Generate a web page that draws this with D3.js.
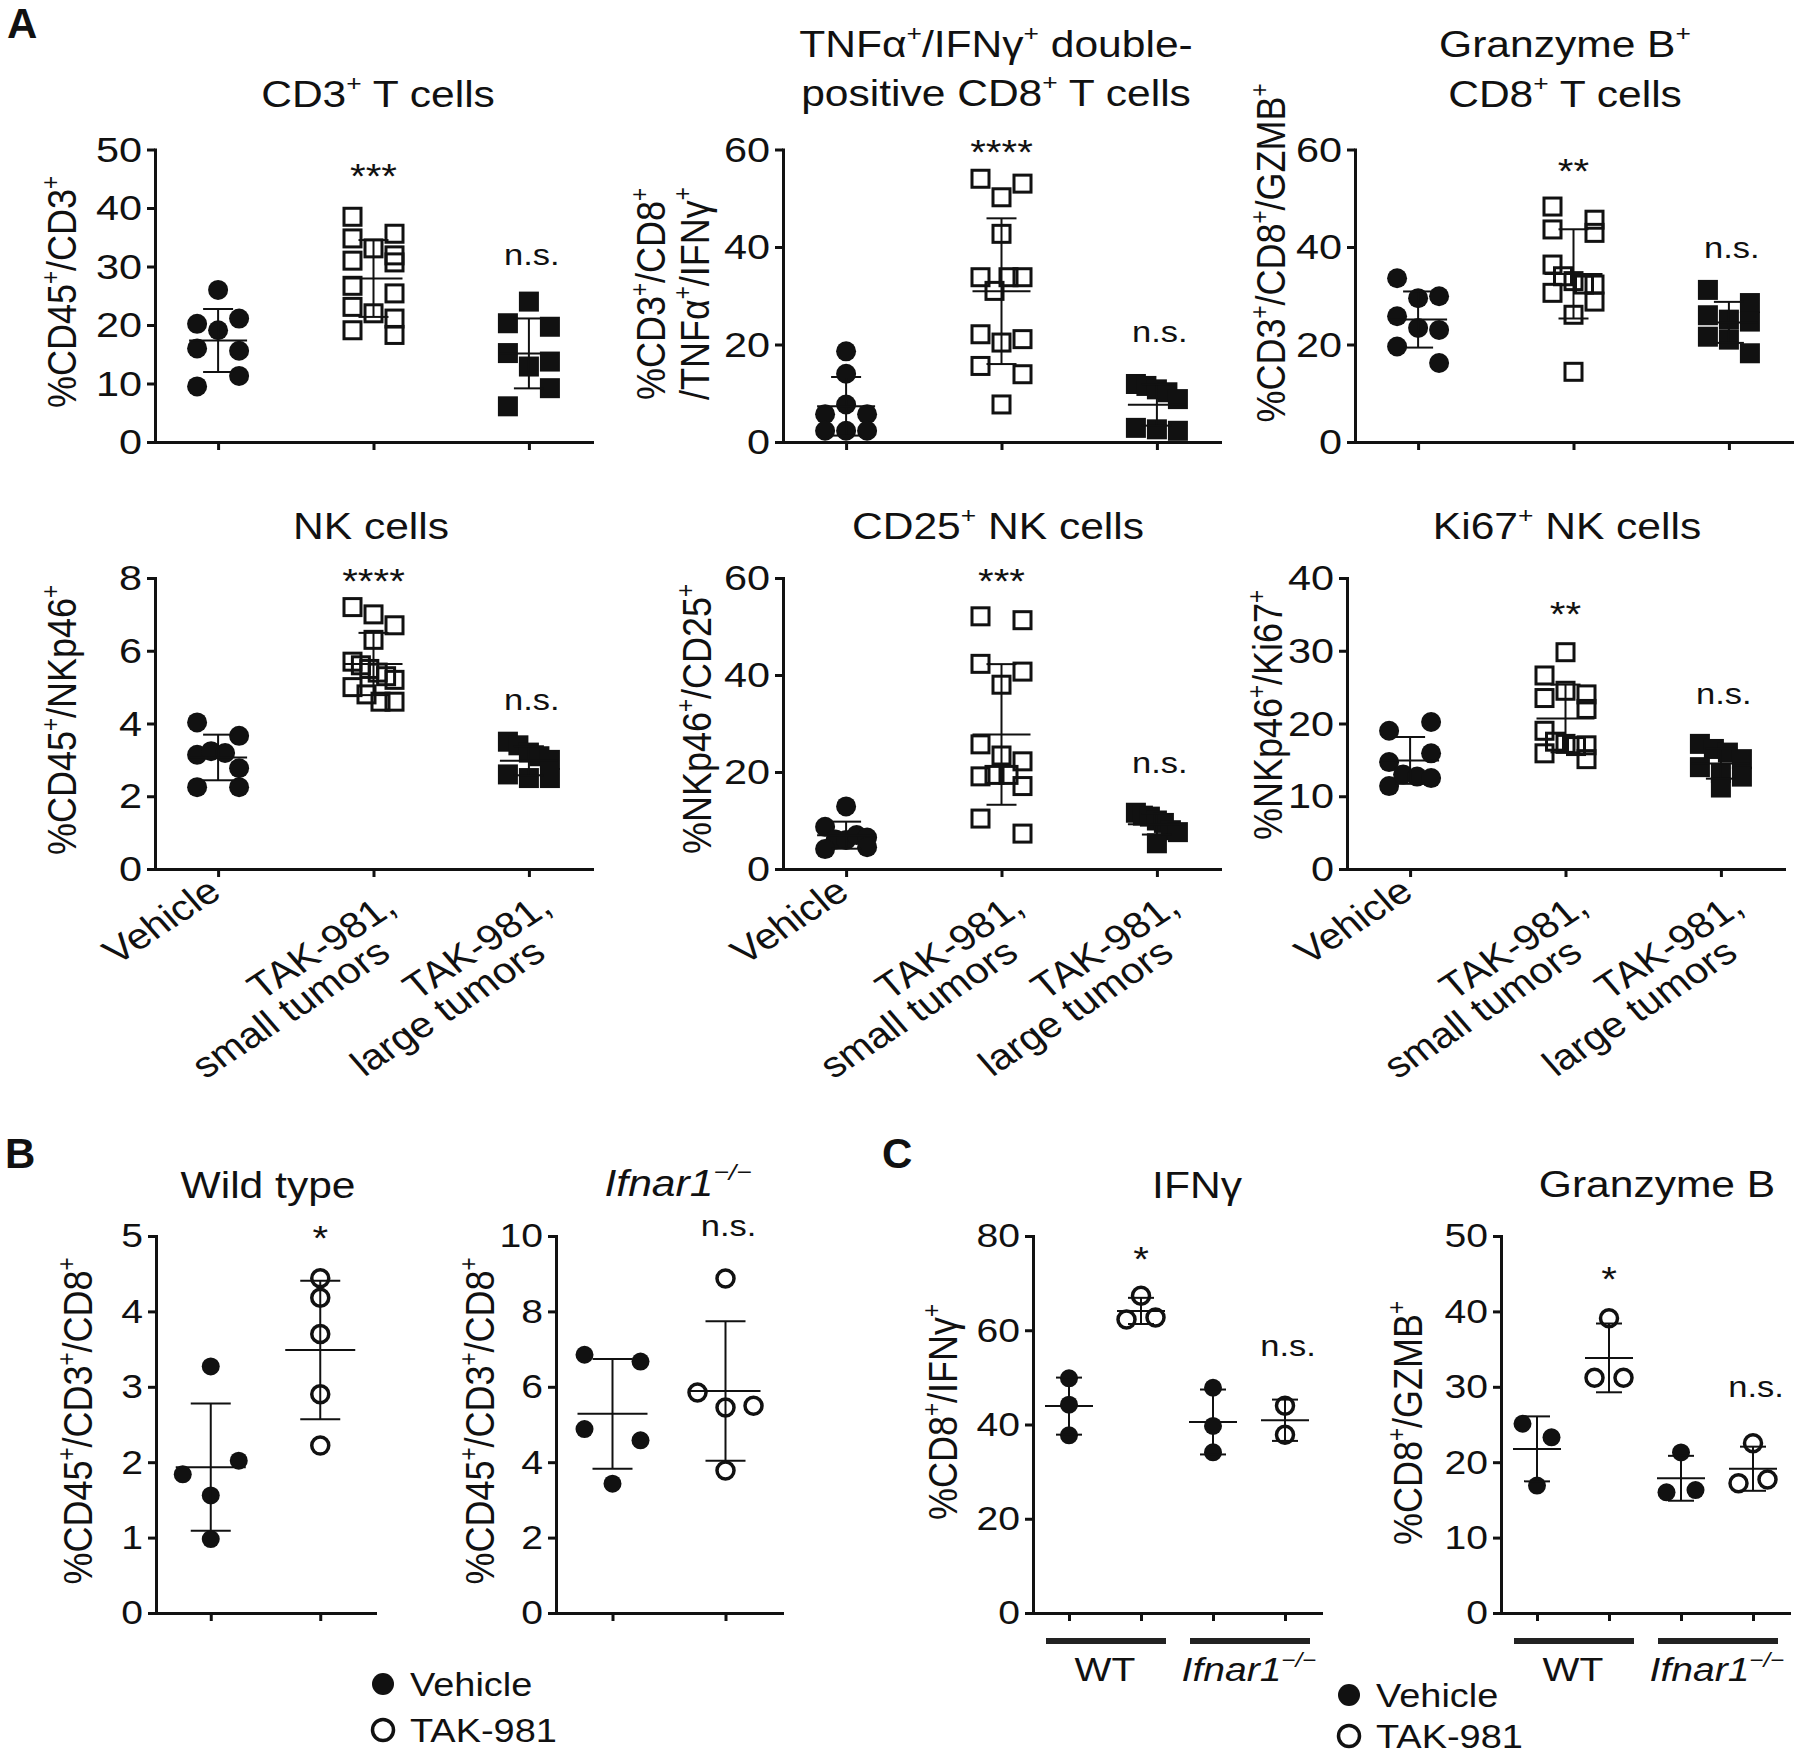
<!DOCTYPE html>
<html><head><meta charset="utf-8">
<script src="https://cdn.jsdelivr.net/npm/d3@7"></script>
<style>
body{margin:0;background:#fff}
svg{display:block}
</style>
</head><body>
<svg id="fig" width="1800" height="1762"></svg>
<script>
// ================= DATA =================
const catsA = ["Vehicle", "TAK-981, small tumors", "TAK-981, large tumors"];
const catLabelsA = [["Vehicle"], ["TAK-981,", "small tumors"], ["TAK-981,", "large tumors"]];
const catsB = ["Vehicle", "TAK-981"];
const catsC = ["WT Vehicle", "WT TAK-981", "Ifnar1 Vehicle", "Ifnar1 TAK-981"];
const groupLabelsC = ["WT", "Ifnar1^−/−^"];
const legendLabels = ["Vehicle", "TAK-981"];

// A: CD3+ T cells
const cd3Vehicle = [26.0, 20.2, 19.1, 21.1, 16.0, 15.6, 9.5, 11.3];
const cd3Small   = [38.5, 35.6, 34.8, 33.1, 31.9, 31.0, 30.7, 26.7, 25.4, 23.1, 22.0, 21.1, 19.1, 18.3];
const cd3Large   = [24.0, 20.3, 19.7, 15.2, 12.9, 13.75, 6.1, 9.2];
// A: TNFa+/IFNg+ double-positive CD8+ T cells
const tnfVehicle = [18.6, 14.0, 5.7, 7.7, 5.7, 2.3, 2.3, 2.3];
const tnfSmall   = [54.0, 50.2, 53.0, 42.7, 33.8, 31.0, 33.8, 33.8, 22.1, 20.4, 21.1, 15.6, 13.9, 7.7];
const tnfLarge   = [11.9, 11.5, 10.8, 10.2, 8.8, 2.9, 2.6, 2.3];
// A: Granzyme B+ CD8+ T cells
const gzmVehicle = [33.6, 29.5, 29.9, 25.8, 23.4, 23.0, 19.6, 16.2];
const gzmSmall   = [48.3, 45.6, 43.6, 42.9, 36.4, 34.0, 33.0, 32.3, 32.3, 30.6, 28.8, 26.1, 14.4];
const gzmLarge   = [31.2, 28.5, 26.0, 25.1, 24.7, 21.6, 21.0, 18.2];
// A: NK cells
const nkVehicle = [4.03, 3.66, 3.14, 3.24, 3.19, 2.25, 2.25, 2.77];
const nkSmall   = [7.2, 7.0, 6.7, 6.3, 5.7, 5.6, 5.5, 5.4, 5.3, 5.2, 5.0, 4.8, 4.6, 4.6];
const nkLarge   = [3.5, 3.4, 3.2, 3.1, 3.0, 2.6, 2.5, 2.5];
// A: CD25+ NK cells
const cd25Vehicle = [12.9, 8.7, 6.1, 6.0, 7.0, 6.5, 4.1, 4.5];
const cd25Small   = [52.1, 51.3, 42.3, 40.7, 38.0, 25.7, 23.4, 22.2, 19.1, 19.4, 19.4, 17.1, 10.4, 7.3];
const cd25Large   = [11.6, 11.0, 10.8, 10.0, 9.5, 8.0, 7.6, 5.3];
// A: Ki67+ NK cells
const ki67Vehicle = [19.0, 20.2, 14.7, 15.9, 11.4, 13.0, 12.7, 12.5];
const ki67Small   = [29.8, 26.6, 24.5, 24.0, 23.5, 22.0, 19.0, 17.5, 17.2, 16.9, 17.0, 15.9, 15.1];
const ki67Large   = [17.2, 16.5, 16.0, 15.1, 14.0, 13.2, 12.7, 11.2];
// B: CD8+ T cells, wild type and Ifnar1-/-
const wtVehicle = [3.27, 1.84, 2.02, 1.56, 0.98];
const wtTak     = [4.44, 4.18, 3.70, 2.90, 2.22];
const koVehicle = [6.85, 6.67, 4.88, 4.58, 3.43];
const koTak     = [8.87, 5.85, 5.45, 5.50, 3.78];
// C: IFNg
const ifnWtVehicle = [49.8, 44.2, 37.7];
const ifnWtTak     = [67.3, 62.3, 62.7];
const ifnKoVehicle = [47.8, 39.7, 34.1];
const ifnKoTak     = [44.0, 37.8];
// C: Granzyme B
const gzbWtVehicle = [25.1, 23.3, 16.9];
const gzbWtTak     = [39.1, 31.2, 31.2];
const gzbKoVehicle = [21.3, 16.0, 16.3];
const gzbKoTak     = [22.5, 17.2, 17.7];

// titles, axis labels, significance marks
const titles = {
  A1: ["CD3^+^ T cells"], A2: ["TNFα^+^/IFNγ^+^ double-", "positive CD8^+^ T cells"],
  A3: ["Granzyme B^+^", "CD8^+^ T cells"], A4: ["NK cells"], A5: ["CD25^+^ NK cells"],
  A6: ["Ki67^+^ NK cells"], B1: ["Wild type"], B2: ["Ifnar1^−/−^"], C1: ["IFNγ"], C2: ["Granzyme B"]
};
const yLabels = {
  A1: ["%CD45^+^/CD3^+^"], A2: ["%CD3^+^/CD8^+^", "/TNFα^+^/IFNγ^+^"], A3: ["%CD3^+^/CD8^+^/GZMB^+^"],
  A4: ["%CD45^+^/NKp46^+^"], A5: ["%NKp46^+^/CD25^+^"], A6: ["%NKp46^+^/Ki67^+^"],
  B1: ["%CD45^+^/CD3^+^/CD8^+^"], B2: ["%CD45^+^/CD3^+^/CD8^+^"],
  C1: ["%CD8^+^/IFNγ^+^"], C2: ["%CD8^+^/GZMB^+^"]
};
const sigs = {
  A1: ["", "***", "n.s."], A2: ["", "****", "n.s."], A3: ["", "**", "n.s."],
  A4: ["", "****", "n.s."], A5: ["", "***", "n.s."], A6: ["", "**", "n.s."],
  B1: ["", "*"], B2: ["", "n.s."], C1: ["", "*", "", "n.s."], C2: ["", "*", "", "n.s."]
};

// ================= STYLE / LAYOUT =================
const FONT = '"Liberation Sans", Arial, Helvetica, sans-serif';
const SX = 1.15;      // horizontal text stretch of the original figure
const INK = "#111";

const styleA = {mark: 20, w: 21, binH: 20, meanHalf: 29, capHalf: 15, tickFont: 36};
const styleB = {mark: 18, w: 28, binH: 16, meanHalf: 35, capHalf: 20, tickFont: 34};
const styleC = {mark: 18, w: 14.5, binH: 18, meanHalf: 24, capHalf: 13, tickFont: 34};

const panels = [
  {id:"A1", st:styleA, ax:155, w:437, pad:0.406, yTop:149.5, yBot:442, yMax:50, yStep:10, cats:catsA,
   series:[[cd3Vehicle,"cf"],[cd3Small,"so"],[cd3Large,"sf"]],
   tX:378, tY:107, tLh:50, ylX:76, ylY:292, ylA:"middle", sigY:[0,46.8,31.6], catLab:false},
  {id:"A2", st:styleA, ax:783, w:437, pad:0.406, yTop:149.5, yBot:442, yMax:60, yStep:20, cats:catsA,
   series:[[tnfVehicle,"cf"],[tnfSmall,"so"],[tnfLarge,"sf"]],
   tX:996, tY:57, tLh:49, ylX:665, ylY:400, ylA:"start", ylLh:38, sigY:[0,61.2,22.2], catLab:false},
  {id:"A3", st:styleA, ax:1355, w:437, pad:0.406, yTop:149.5, yBot:442, yMax:60, yStep:20, cats:catsA,
   series:[[gzmVehicle,"cf"],[gzmSmall,"so"],[gzmLarge,"sf"]],
   tX:1565, tY:57, tLh:50, ylX:1285, ylY:253, ylA:"middle", sigY:[0,57.3,39.4], catLab:false},
  {id:"A4", st:styleA, ax:155, w:437, pad:0.406, yTop:578, yBot:869, yMax:8, yStep:2, cats:catsA,
   series:[[nkVehicle,"cf"],[nkSmall,"so"],[nkLarge,"sf"]],
   tX:371, tY:539, tLh:50, ylX:76, ylY:720, ylA:"middle", sigY:[0,8.15,4.6], catLab:true},
  {id:"A5", st:styleA, ax:783, w:437, pad:0.406, yTop:578, yBot:869, yMax:60, yStep:20, cats:catsA,
   series:[[cd25Vehicle,"cf"],[cd25Small,"so"],[cd25Large,"sf"]],
   tX:998, tY:539, tLh:50, ylX:711, ylY:719, ylA:"middle", sigY:[0,61.1,21.4], catLab:true},
  {id:"A6", st:styleA, ax:1347, w:437, pad:0.406, yTop:578, yBot:869, yMax:40, yStep:10, cats:catsA,
   series:[[ki67Vehicle,"cf"],[ki67Small,"so"],[ki67Large,"sf"]],
   tX:1567, tY:539, tLh:50, ylX:1282, ylY:715, ylA:"middle", sigY:[0,36.1,23.8], catLab:true},
  {id:"B1", st:styleB, ax:156, w:219, pad:0.5, yTop:1236, yBot:1613, yMax:5, yStep:1, cats:catsB,
   series:[[wtVehicle,"cf"],[wtTak,"co"]],
   tX:268, tY:1198, tLh:50, ylX:92, ylY:1421, ylA:"middle", sigY:[0,5.08]},
  {id:"B2", st:styleB, ax:556, w:226, pad:0.5, yTop:1236, yBot:1613, yMax:10, yStep:2, cats:catsB,
   series:[[koVehicle,"cf"],[koTak,"co"]], italicTitle:true,
   tX:678, tY:1196, tLh:50, ylX:494, ylY:1421, ylA:"middle", sigY:[0,10.2]},
  {id:"C1", st:styleC, ax:1033, w:288, pad:0.5, yTop:1236, yBot:1613, yMax:80, yStep:20, cats:catsC,
   series:[[ifnWtVehicle,"cf"],[ifnWtTak,"co"],[ifnKoVehicle,"cf"],[ifnKoTak,"co"]],
   tX:1197, tY:1198, tLh:50, ylX:957, ylY:1412, ylA:"middle", sigY:[0,76.8,0,56.2], groups:true},
  {id:"C2", st:styleC, ax:1501, w:288, pad:0.5, yTop:1236, yBot:1613, yMax:50, yStep:10, cats:catsC,
   series:[[gzbWtVehicle,"cf"],[gzbWtTak,"co"],[gzbKoVehicle,"cf"],[gzbKoTak,"co"]],
   tX:1657, tY:1197, tLh:50, ylX:1422, ylY:1423, ylA:"middle", sigY:[0,45.4,0,29.7], groups:true}
];

// ================= HELPERS =================
const svg = d3.select("#fig");
svg.append("rect").attr("width", 1800).attr("height", 1762).attr("fill", "#fff");

function richLine(t, str, x, y, size) {
  const segs = str.split("^");
  let shift = 0, first = true;
  segs.forEach((s, j) => {
    if (s === "") return;
    const sup = j % 2 === 1;
    const target = sup ? -0.42 * size : 0;
    const ts = t.append("tspan").text(s);
    if (first) { ts.attr("x", x).attr("y", y + target); first = false; }
    else ts.attr("dy", target - shift);
    shift = target;
    if (sup) ts.style("font-size", (0.62 * size) + "px");
  });
}

function label(parent, x, y, lines, o) {
  let tr = `translate(${x},${y}) scale(${o.sx ?? SX},1)`;
  if (o.rot) tr += ` rotate(${o.rot})`;
  const t = parent.append("text").attr("transform", tr)
    .attr("text-anchor", o.anchor || "middle")
    .style("font-family", FONT).style("font-size", o.size + "px")
    .style("font-style", o.italic ? "italic" : "normal")
    .style("font-weight", o.weight || "normal")
    .attr("fill", INK);
  const lh = o.lh || o.size * 1.2;
  lines.forEach((ln, i) => richLine(t, ln, 0, i * lh, o.size));
  return t;
}

function styleAxis(sel, fs) {
  sel.select(".domain").attr("stroke", INK).attr("stroke-width", 3).attr("stroke-linecap", "square");
  sel.selectAll(".tick line").attr("stroke", INK).attr("stroke-width", 3);
  sel.selectAll(".tick text").attr("fill", INK)
    .style("font-family", FONT).style("font-size", fs + "px")
    .attr("transform", `scale(${SX},1)`)
    .attr("x", function () { return +d3.select(this).attr("x") / SX; });
}

function swarm(values, y, w, binH) {
  const idx = values.map((v, i) => i).sort((a, b) => values[b] - values[a]);
  const off = new Array(values.length).fill(0);
  let i = 0;
  while (i < idx.length) {
    const start = y(values[idx[i]]);
    const bin = [idx[i]];
    let j = i + 1;
    while (j < idx.length && y(values[idx[j]]) - start < binH) { bin.push(idx[j]); j++; }
    bin.sort((a, b) => a - b);
    const n = bin.length;
    bin.forEach((k, m) => { off[k] = n === 1 ? 0 : -w + m * 2 * w / (n - 1); });
    i = j;
  }
  return off;
}

function marker(g, kind, cx, cy, size) {
  if (kind === "cf") {
    g.append("circle").attr("cx", cx).attr("cy", cy).attr("r", size / 2).attr("fill", INK);
  } else if (kind === "co") {
    g.append("circle").attr("cx", cx).attr("cy", cy).attr("r", size / 2 - 0.5)
      .attr("fill", "none").attr("stroke", INK).attr("stroke-width", 3.5);
  } else if (kind === "so") {
    const s = size - 3;
    g.append("rect").attr("x", cx - s / 2).attr("y", cy - s / 2).attr("width", s).attr("height", s)
      .attr("fill", "none").attr("stroke", INK).attr("stroke-width", 3);
  } else if (kind === "sf") {
    g.append("rect").attr("x", cx - size / 2).attr("y", cy - size / 2).attr("width", size).attr("height", size)
      .attr("fill", INK);
  }
}

// ================= DRAW =================
function drawPanel(p) {
  const st = p.st;
  const g = svg.append("g").attr("id", p.id);
  const x = d3.scalePoint().domain(p.cats).range([p.ax, p.ax + p.w]).padding(p.pad);
  const y = d3.scaleLinear().domain([0, p.yMax]).range([p.yBot, p.yTop]);

  const ya = g.append("g").attr("transform", `translate(${p.ax},0)`)
    .call(d3.axisLeft(y).tickValues(d3.range(0, p.yMax + 1e-9, p.yStep))
      .tickFormat(d3.format("~g")).tickSize(8).tickSizeOuter(0).tickPadding(5));
  styleAxis(ya, st.tickFont);
  const xa = g.append("g").attr("transform", `translate(0,${p.yBot})`)
    .call(d3.axisBottom(x).tickSize(8).tickSizeOuter(0).tickFormat(""));
  styleAxis(xa, st.tickFont);

  // points
  const pts = g.append("g");
  p.series.forEach(([vals, kind], si) => {
    const cx0 = x(p.cats[si]);
    const off = swarm(vals, y, st.w, st.binH);
    vals.forEach((v, k) => marker(pts, kind, cx0 + off[k], y(v), st.mark));
  });
  // mean ± SD
  const eb = g.append("g").attr("stroke", INK).attr("stroke-width", 2);
  p.series.forEach(([vals], si) => {
    const cx0 = x(p.cats[si]);
    const m = d3.mean(vals), sd = d3.deviation(vals);
    const lo = Math.max(0, m - sd), hi = m + sd;
    eb.append("line").attr("x1", cx0).attr("x2", cx0).attr("y1", y(hi)).attr("y2", y(lo));
    eb.append("line").attr("x1", cx0 - st.meanHalf).attr("x2", cx0 + st.meanHalf).attr("y1", y(m)).attr("y2", y(m));
    [hi, lo].forEach(e => eb.append("line").attr("x1", cx0 - st.capHalf).attr("x2", cx0 + st.capHalf)
      .attr("y1", y(e)).attr("y2", y(e)));
  });

  // significance
  sigs[p.id].forEach((s, i) => {
    if (!s) return;
    const star = s.indexOf("*") >= 0;
    const fs = star ? 35 : 30;
    label(g, x(p.cats[i]) + (star ? 0 : 3), y(p.sigY[i]) + (star ? 20 : 8), [s], {size: fs});
  });

  // title
  label(g, p.tX, p.tY, titles[p.id], {size: 37, lh: p.tLh, italic: !!p.italicTitle});
  // y label
  label(g, p.ylX, p.ylY, yLabels[p.id], {size: 36, rot: -90, anchor: p.ylA, lh: p.ylLh || 40});

  // rotated category labels: each line end-anchored, lines stacked downward on the page
  if (p.catLab) {
    p.cats.forEach((c, i) => {
      const lines = catLabelsA[i], n = lines.length;
      lines.forEach((ln, li) => {
        const lx = x(c) + 5 + (n - 1) * 20 - li * 6;
        const ly = p.yBot + 27 + (n - 1) * 15 + li * 46;
        label(g, lx, ly, [ln], {size: 36, rot: -37, anchor: "end"});
      });
    });
  }
  // group bars for panel C
  if (p.groups) {
    [[0, 1], [2, 3]].forEach(([a, b], gi) => {
      g.append("line").attr("x1", x(p.cats[a]) - 23).attr("x2", x(p.cats[b]) + 25)
        .attr("y1", p.yBot + 28).attr("y2", p.yBot + 28).attr("stroke", "#222").attr("stroke-width", 6);
      label(g, (x(p.cats[a]) + x(p.cats[b])) / 2, p.yBot + 68, [groupLabelsC[gi]],
        {size: 34, italic: gi === 1});
    });
  }
}
panels.forEach(drawPanel);

// panel letters
[["A", 7, 38], ["B", 5, 1168], ["C", 882, 1168]].forEach(([t, x, y]) =>
  label(svg, x, y, [t], {size: 42, weight: "bold", anchor: "start", sx: 1}));

// legends
function legend(x, y1, y2) {
  const g = svg.append("g");
  marker(g, "cf", x, y1, 22);
  marker(g, "co", x, y2, 22);
  label(g, x + 27, y1 + 12, [legendLabels[0]], {size: 33, anchor: "start"});
  label(g, x + 27, y2 + 12, [legendLabels[1]], {size: 33, anchor: "start"});
}
legend(383, 1684, 1730);
legend(1349, 1695, 1736);
</script>
</body></html>
